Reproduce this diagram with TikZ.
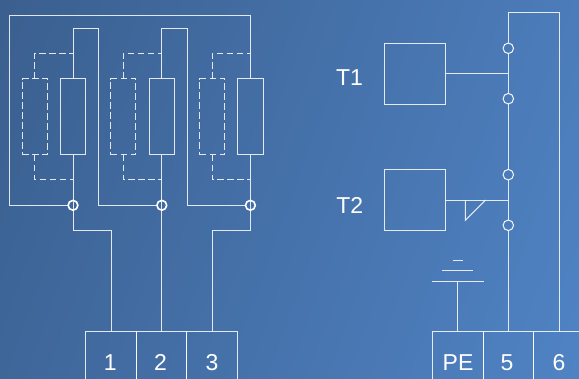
\documentclass[tikz,border=0pt]{standalone}
\usepackage{fontspec}
\setmainfont{Liberation Sans}
\definecolor{bgA}{HTML}{3B6090}
\definecolor{bgB}{HTML}{3875C0}
\definecolor{bgC}{HTML}{5287CA}
\tikzset{
  wire/.style={draw=white,opacity=.85,line width=1pt},
  dwire/.style={wire,dash pattern=on 6.5pt off 3.5pt},
  solidbox/.style={wire,rectangle,inner sep=0pt,outer sep=0pt,minimum width=25.2pt,minimum height=76pt},
  dashbox/.style={solidbox,dash pattern=on 6.5pt off 3.5pt},
  relay/.style={wire,rectangle,inner sep=0pt,outer sep=0pt,minimum width=61.3pt,minimum height=61pt},
  term/.style={wire,rectangle,inner sep=0pt,outer sep=0pt,minimum height=60pt,anchor=north west},
  jointc/.style={circle,draw=white,line width=1.6pt,inner sep=0pt,outer sep=0pt,minimum size=9.8pt},
  contact/.style={circle,draw=white,opacity=.95,line width=1pt,inner sep=0pt,outer sep=0pt,minimum size=10.5pt},
  lbl/.style={text=white,font=\fontsize{23}{23}\selectfont,inner sep=0pt,anchor=base}
}
\begin{document}
\begin{tikzpicture}[x=1pt,y=-1pt]
\useasboundingbox (0,0) rectangle (579,378);
\clip (0,0) rectangle (579,378);
\shade[shading=axis,bottom color=bgA,middle color=bgB,top color=bgC,shading angle=-110]
  (335,189) ++(-370,-370) rectangle ++(740,740);

% resistors
\node[solidbox] (r1) at (73,116.5) {};
\node[solidbox] (r2) at (161.8,116.5) {};
\node[solidbox] (r3) at (250.4,116.5) {};
\node[dashbox] (d1) at (34.8,116.5) {};
\node[dashbox] (d2) at (123.3,116.5) {};
\node[dashbox] (d3) at (212.2,116.5) {};

% junctions
\node[jointc] (j1) at (73,205.3) {};
\node[jointc] (j2) at (161.8,205.3) {};
\node[jointc] (j3) at (250.4,205.3) {};

% corner coordinates
\coordinate (oTL) at (9.5,15.5);
\coordinate (oTR) at (250.4,15.5);
\coordinate (oBL) at (9.5,205.3);
\coordinate (t1) at (73,28);
\coordinate (t1r) at (98,28);
\coordinate (b1r) at (98,205.3);
\coordinate (t2) at (161.8,28);
\coordinate (t2r) at (187,28);
\coordinate (b2r) at (187,205.3);

% frames
\draw[wire] (r3.north) -- (oTR) -- (oTL) -- (oBL) -- (j1.west);
\draw[wire] (r1.north) -- (t1) -- (t1r) -- (b1r) -- (j2.west);
\draw[wire] (r2.north) -- (t2) -- (t2r) -- (b2r) -- (j3.west);

% dashed leads
\coordinate (dt1) at (34.8,53);
\coordinate (dt1e) at (73,53);
\coordinate (db1) at (34.8,179.7);
\coordinate (db1e) at (73,179.7);
\coordinate (dt2) at (123.3,53);
\coordinate (dt2e) at (161.8,53);
\coordinate (db2) at (123.3,179.7);
\coordinate (db2e) at (161.8,179.7);
\coordinate (dt3) at (212.2,53);
\coordinate (dt3e) at (250.4,53);
\coordinate (db3) at (212.2,179.7);
\coordinate (db3e) at (250.4,179.7);
\draw[dwire] (d1.north) -- (dt1) -- (dt1e);
\draw[dwire] (d1.south) -- (db1) -- (db1e);
\draw[dwire] (d2.north) -- (dt2) -- (dt2e);
\draw[dwire] (d2.south) -- (db2) -- (db2e);
\draw[dwire] (d3.north) -- (dt3) -- (dt3e);
\draw[dwire] (d3.south) -- (db3) -- (db3e);

% terminals left
\node[term,minimum width=51pt] (k1) at (85.3,331.7) {};
\node[term,minimum width=50.5pt] (k2) at (136.3,331.7) {};
\node[term,minimum width=50.5pt] (k3) at (186.8,331.7) {};
\node[lbl] (k1t) at (110.3,370) {1};
\node[lbl] (k2t) at (160.5,370) {2};
\node[lbl] (k3t) at (212,370) {3};

\coordinate (e1) at (73,230.3);
\coordinate (e1b) at (111,230.3);
\coordinate (k1in) at (111,331.7);
\coordinate (e3) at (250.4,230.3);
\coordinate (e3b) at (212.3,230.3);
\coordinate (k3in) at (212.3,331.7);
\coordinate (k2in) at (161.8,331.7);
\draw[wire] (r1.south) -- (e1) -- (e1b) -- (k1in);
\draw[wire] (r2.south) -- (k2in);
\draw[wire] (r3.south) -- (e3) -- (e3b) -- (k3in);

% relays
\node[relay] (t1b) at (414.7,73.5) {};
\node[relay] (t2b) at (414.7,200) {};
\node[lbl] (t1l) at (349.5,85.7) {T1};
\node[lbl] (t2l) at (349.8,213) {T2};

% contacts
\node[contact] (c1) at (508.3,48.3) {};
\node[contact] (c2) at (508.3,98.7) {};
\node[contact] (c3) at (508.3,174.7) {};
\node[contact] (c4) at (508.3,225.3) {};

% terminals right
\node[term,minimum width=50.8pt] (k4) at (432.5,331.7) {};
\node[term,minimum width=50.4pt] (k5) at (483.3,331.7) {};
\node[term,minimum width=50.4pt] (k6) at (533.7,331.7) {};
\node[lbl] (k4t) at (458,370) {PE};
\node[lbl] (k5t) at (507,370) {5};
\node[lbl] (k6t) at (559,370) {6};

\coordinate (rt) at (508.3,12.7);
\coordinate (rtr) at (559,12.7);
\coordinate (rb) at (559,331.7);
\coordinate (c5in) at (508.3,331.7);
\draw[wire] (c1.north) -- (rt) -- (rtr) -- (rb);
\draw[wire] (c1.south) -- (c2.north);
\draw[wire] (c2.south) -- (c3.north);
\draw[wire] (c3.south) -- (c4.north);
\draw[wire] (c4.south) -- (c5in);

\coordinate (m1) at (508.3,73.3);
\coordinate (m2) at (508.3,200);
\draw[wire] (t1b.east |- m1) -- (m1);
\draw[wire] (t2b.east) -- (m2);
\coordinate (ta) at (465.3,200);
\coordinate (tb) at (465.3,220.3);
\coordinate (tc) at (485.7,200);
\draw[wire] (ta) -- (tb) -- (tc);

% earth
\coordinate (g0) at (457.7,281);
\coordinate (g1l) at (432,281);
\coordinate (g1r) at (483.5,281);
\coordinate (g2l) at (442,270.7);
\coordinate (g2r) at (473.3,270.7);
\coordinate (g3l) at (452.5,260.7);
\coordinate (g3r) at (463,260.7);
\coordinate (g4) at (457.7,331.7);
\draw[wire] (g1l) -- (g1r);
\draw[wire] (g2l) -- (g2r);
\draw[wire] (g3l) -- (g3r);
\draw[wire] (g0) -- (g4);
\end{tikzpicture}
\end{document}
